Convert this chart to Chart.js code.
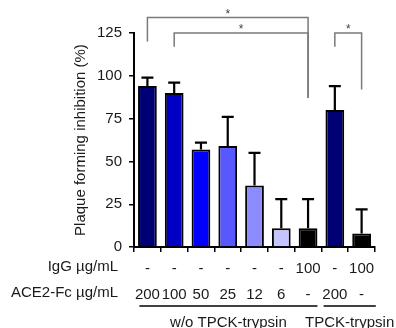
<!DOCTYPE html>
<html>
<head>
<meta charset="utf-8">
<script src="https://cdn.jsdelivr.net/npm/chart.js@4"></script>
<style>
  html, body { margin: 0; padding: 0; background: #fff; }
  #wrap { width: 396px; height: 328px; }
</style>
</head>
<body>
<div id="wrap"><canvas id="c"></canvas></div>
<script>
// --- data ---
const iggLabels  = ["-", "-", "-", "-", "-", "-", "100", "-", "100"];
const ace2Labels = ["200", "100", "50", "25", "12", "6", "-", "200", "-"];
const inhibition = [94, 90, 57, 59, 36, 11, 11, 80, 8];
const errorUpper = [99, 96, 61, 76, 55, 28, 28, 94, 22];
const barColors  = ["#000075", "#0000c4", "#0000ff", "#5858ff", "#8c8cff", "#c4c4ff", "#000000", "#000075", "#000000"];
const yTicks     = [0, 25, 50, 75, 100, 125];

// significance brackets: [leftIndex, rightIndex, topValue, leftLegBottom, rightLegBottom]
const brackets = [
  [0, 6, 134, 120, 87],
  [1, 6, 125, 117, 87],
  [7, 8, 125, 117, 92]
];
// group underline: from/to category, with overhang in category widths
const groups = [
  { text: "w/o TPCK-trypsin", from: 0, to: 6, padL: 0.3, padR: 0.35 },
  { text: "TPCK-trypsin", from: 7, to: 8, padL: 0.42, padR: 0.53 }
];

const FONT = "'Liberation Sans', Arial, sans-serif";
const TXT = "#1a1a1a";

const extras = {
  id: "extras",
  afterDatasetsDraw(chart) {
    const ctx = chart.ctx;
    const x = chart.scales.x, y = chart.scales.y;
    ctx.save();

    // one-sided error bars
    ctx.strokeStyle = "#000";
    ctx.lineWidth = 2.2;
    inhibition.forEach((v, i) => {
      const px = x.getPixelForValue(i);
      const y0 = y.getPixelForValue(v);
      const y1 = y.getPixelForValue(errorUpper[i]);
      ctx.beginPath();
      ctx.moveTo(px, y0);
      ctx.lineTo(px, y1);
      ctx.moveTo(px - 6, y1);
      ctx.lineTo(px + 6, y1);
      ctx.stroke();
    });

    // brackets with stars
    ctx.strokeStyle = "#7a7a7a";
    ctx.lineWidth = 1.5;
    ctx.fillStyle = "#444";
    ctx.font = "12px " + FONT;
    ctx.textAlign = "center";
    ctx.textBaseline = "bottom";
    brackets.forEach(b => {
      const xl = x.getPixelForValue(b[0]), xr = x.getPixelForValue(b[1]);
      const yt = y.getPixelForValue(b[2]);
      ctx.beginPath();
      ctx.moveTo(xl, y.getPixelForValue(b[3]));
      ctx.lineTo(xl, yt);
      ctx.lineTo(xr, yt);
      ctx.lineTo(xr, y.getPixelForValue(b[4]));
      ctx.stroke();
      ctx.fillText("*", (xl + xr) / 2, yt + 3);
    });

    // row headers
    const row1 = x.top + 20, row2 = x.top + 46;
    ctx.fillStyle = TXT;
    ctx.font = "15px " + FONT;
    ctx.textAlign = "right";
    ctx.textBaseline = "middle";
    ctx.fillText("IgG \u00b5g/mL", 118, row1);
    ctx.fillText("ACE2-Fc \u00b5g/mL", 118, row2);

    // group underlines and labels
    const step = x.getPixelForValue(1) - x.getPixelForValue(0);
    ctx.strokeStyle = "#000";
    ctx.lineWidth = 1.5;
    ctx.textAlign = "center";
    groups.forEach(g => {
      const a = x.getPixelForValue(g.from) - step * g.padL;
      const b = x.getPixelForValue(g.to) + step * g.padR;
      const ly = x.top + 59;
      ctx.beginPath();
      ctx.moveTo(a, ly);
      ctx.lineTo(b, ly);
      ctx.stroke();
      ctx.fillText(g.text, (a + b) / 2, ly + 17);
    });
    ctx.restore();
  }
};

new Chart(document.getElementById("c"), {
  type: "bar",
  data: {
    labels: ace2Labels.map((_, i) => i),
    datasets: [{
      data: inhibition,
      backgroundColor: barColors,
      borderColor: "#000",
      borderWidth: 2,
      borderSkipped: "bottom",
      barPercentage: 0.7,
      categoryPercentage: 1
    }]
  },
  options: {
    responsive: true,
    maintainAspectRatio: false,
    animation: false,
    layout: { padding: { left: 72, right: 21, top: 33, bottom: 16 } },
    plugins: { legend: { display: false }, tooltip: { enabled: false } },
    scales: {
      x: {
        grid: { display: true, drawOnChartArea: false, color: "#000", tickLength: 5, lineWidth: 1.5 },
        border: { color: "#000", width: 2 },
        ticks: {
          color: TXT,
          font: { family: FONT, size: 15, lineHeight: 1.73 },
          maxRotation: 0,
          autoSkip: false,
          padding: 4,
          callback: (v, i) => [iggLabels[i], ace2Labels[i]]
        }
      },
      y: {
        min: 0,
        max: 125,
        afterBuildTicks: axis => { axis.ticks = yTicks.map(v => ({ value: v })); },
        grid: { display: true, drawOnChartArea: false, color: "#000", tickLength: 5, lineWidth: 1.5 },
        border: { color: "#000", width: 2 },
        ticks: { color: TXT, font: { family: FONT, size: 15 }, padding: 7 },
        title: {
          display: true,
          text: "Plaque forming inhibition (%)",
          color: TXT,
          font: { family: FONT, size: 15 },
          padding: { top: 0, bottom: 0 }
        }
      }
    }
  },
  plugins: [extras]
});
</script>
</body>
</html>
